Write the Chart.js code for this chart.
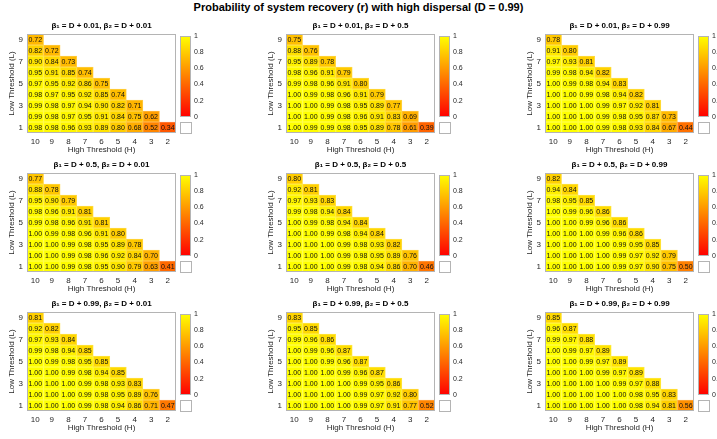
<!DOCTYPE html>
<html>
<head>
<meta charset="utf-8">
<script src="https://cdn.jsdelivr.net/npm/chart.js@4.4.1/dist/chart.umd.min.js"></script>
<style>
body { margin: 0; background: #fff; width: 717px; height: 439px; overflow: hidden; position: relative; font-family: "Liberation Sans", Arial, sans-serif; }
#title { position: absolute; left: 0; top: 1px; width: 717px; text-align: center; font-weight: bold; font-size: 11px; color: #000; }
canvas { position: absolute; }
.nan { position: absolute; width: 10px; height: 10px; border: 1px solid #b4b4b4; background: #fff; }
</style>
</head>
<body>
<div id="title">Probability of system recovery (r) with high dispersal (D = 0.99)</div>
<script>
// axis labels
const highThresholds = ['10', '9', '8', '7', '6', '5', '4', '3', '2'];
const lowThresholds = [9, 8, 7, 6, 5, 4, 3, 2, 1];
const beta1Labels = ['D + 0.01', 'D + 0.5', 'D + 0.99'];
const beta2Labels = ['D + 0.01', 'D + 0.5', 'D + 0.99'];

// values, one row per low threshold (L = 9 ... 1), columns H = 10 ... 2
const r_001_001 = [
  [0.72],
  [0.82, 0.72],
  [0.90, 0.84, 0.73],
  [0.95, 0.91, 0.85, 0.74],
  [0.97, 0.95, 0.92, 0.86, 0.75],
  [0.98, 0.97, 0.95, 0.92, 0.85, 0.74],
  [0.99, 0.98, 0.97, 0.94, 0.90, 0.82, 0.71],
  [0.99, 0.98, 0.97, 0.95, 0.91, 0.84, 0.75, 0.62],
  [0.98, 0.98, 0.96, 0.93, 0.89, 0.80, 0.68, 0.52, 0.34]
];
const r_001_05 = [
  [0.75],
  [0.88, 0.76],
  [0.95, 0.89, 0.78],
  [0.98, 0.96, 0.91, 0.79],
  [0.99, 0.98, 0.96, 0.91, 0.80],
  [1.00, 0.99, 0.98, 0.96, 0.91, 0.79],
  [1.00, 1.00, 0.99, 0.98, 0.95, 0.89, 0.77],
  [1.00, 1.00, 0.99, 0.98, 0.96, 0.91, 0.83, 0.69],
  [1.00, 0.99, 0.99, 0.98, 0.95, 0.89, 0.78, 0.61, 0.39]
];
const r_001_099 = [
  [0.78],
  [0.91, 0.80],
  [0.97, 0.93, 0.81],
  [0.99, 0.98, 0.94, 0.82],
  [1.00, 0.99, 0.98, 0.94, 0.83],
  [1.00, 1.00, 0.99, 0.98, 0.94, 0.82],
  [1.00, 1.00, 1.00, 0.99, 0.97, 0.92, 0.81],
  [1.00, 1.00, 1.00, 0.99, 0.98, 0.95, 0.87, 0.73],
  [1.00, 1.00, 1.00, 0.99, 0.98, 0.93, 0.84, 0.67, 0.44]
];
const r_05_001 = [
  [0.77],
  [0.88, 0.78],
  [0.95, 0.90, 0.79],
  [0.98, 0.96, 0.91, 0.81],
  [0.99, 0.98, 0.96, 0.91, 0.81],
  [1.00, 0.99, 0.98, 0.96, 0.91, 0.80],
  [1.00, 1.00, 0.99, 0.98, 0.95, 0.89, 0.78],
  [1.00, 1.00, 0.99, 0.98, 0.96, 0.92, 0.84, 0.70],
  [1.00, 1.00, 0.99, 0.98, 0.95, 0.90, 0.79, 0.63, 0.41]
];
const r_05_05 = [
  [0.80],
  [0.92, 0.81],
  [0.97, 0.93, 0.83],
  [0.99, 0.98, 0.94, 0.84],
  [1.00, 0.99, 0.98, 0.94, 0.84],
  [1.00, 1.00, 0.99, 0.98, 0.94, 0.84],
  [1.00, 1.00, 1.00, 0.99, 0.98, 0.93, 0.82],
  [1.00, 1.00, 1.00, 0.99, 0.98, 0.95, 0.89, 0.76],
  [1.00, 1.00, 1.00, 0.99, 0.98, 0.94, 0.86, 0.70, 0.46]
];
const r_05_099 = [
  [0.82],
  [0.94, 0.84],
  [0.98, 0.95, 0.85],
  [1.00, 0.99, 0.96, 0.86],
  [1.00, 1.00, 0.99, 0.96, 0.86],
  [1.00, 1.00, 1.00, 0.99, 0.96, 0.86],
  [1.00, 1.00, 1.00, 1.00, 0.99, 0.95, 0.85],
  [1.00, 1.00, 1.00, 1.00, 0.99, 0.97, 0.92, 0.79],
  [1.00, 1.00, 1.00, 1.00, 0.99, 0.97, 0.90, 0.75, 0.50]
];
const r_099_001 = [
  [0.81],
  [0.92, 0.82],
  [0.97, 0.93, 0.84],
  [0.99, 0.98, 0.94, 0.85],
  [1.00, 0.99, 0.98, 0.95, 0.85],
  [1.00, 1.00, 0.99, 0.98, 0.94, 0.85],
  [1.00, 1.00, 1.00, 0.99, 0.98, 0.93, 0.83],
  [1.00, 1.00, 1.00, 0.99, 0.98, 0.95, 0.89, 0.76],
  [1.00, 1.00, 1.00, 0.99, 0.98, 0.94, 0.86, 0.71, 0.47]
];
const r_099_05 = [
  [0.83],
  [0.95, 0.85],
  [0.99, 0.96, 0.86],
  [1.00, 0.99, 0.96, 0.87],
  [1.00, 1.00, 0.99, 0.96, 0.87],
  [1.00, 1.00, 1.00, 0.99, 0.96, 0.87],
  [1.00, 1.00, 1.00, 1.00, 0.99, 0.95, 0.86],
  [1.00, 1.00, 1.00, 1.00, 0.99, 0.97, 0.92, 0.80],
  [1.00, 1.00, 1.00, 1.00, 0.99, 0.97, 0.91, 0.77, 0.52]
];
const r_099_099 = [
  [0.85],
  [0.96, 0.87],
  [0.99, 0.97, 0.88],
  [1.00, 0.99, 0.97, 0.89],
  [1.00, 1.00, 0.99, 0.97, 0.89],
  [1.00, 1.00, 1.00, 0.99, 0.97, 0.89],
  [1.00, 1.00, 1.00, 1.00, 0.99, 0.97, 0.88],
  [1.00, 1.00, 1.00, 1.00, 1.00, 0.98, 0.95, 0.83],
  [1.00, 1.00, 1.00, 1.00, 1.00, 0.98, 0.94, 0.81, 0.56]
];

const panels = [
  [r_001_001, r_001_05, r_001_099],
  [r_05_001, r_05_05, r_05_099],
  [r_099_001, r_099_05, r_099_099]
];

// layout
const colLeft = [27, 286, 545];
const rowTop = [34, 173, 312];
const plotW = 149, plotH = 99;
const yAxisW = 27, xAxisH = 27, titleH = 16;

Chart.defaults.font.family = '"Liberation Sans", Arial, sans-serif';
Chart.defaults.color = '#262626';

// MATLAB autumn colormap
function autumn(v) {
  return 'rgb(255,' + Math.round(255 * v) + ',0)';
}
function autumnEdge(v) {
  const g = Math.round(255 * v);
  return 'rgb(255,' + Math.round(g + (255 - g) * 0.25) + ',64)';
}

const frame = {
  id: 'frame',
  afterDraw(chart) {
    const a = chart.chartArea;
    const ctx = chart.ctx;
    ctx.save();
    ctx.strokeStyle = '#b4b4b4';
    ctx.lineWidth = 1;
    ctx.strokeRect(Math.round(a.left) + 0.5, Math.round(a.top) + 0.5, Math.round(a.right - a.left) - 1, Math.round(a.bottom - a.top) - 1);
    ctx.restore();
  }
};

const cellText = {
  id: 'cellText',
  afterDatasetsDraw(chart) {
    const ctx = chart.ctx;
    ctx.save();
    ctx.font = '7px "Liberation Sans", Arial, sans-serif';
    ctx.fillStyle = '#111';
    ctx.textAlign = 'center';
    ctx.textBaseline = 'middle';
    chart.data.datasets.forEach((ds, i) => {
      chart.getDatasetMeta(i).data.forEach((bar, j) => {
        if (ds.vals[j] === undefined) return;
        const p = bar.getProps(['x', 'y', 'base'], true);
        ctx.fillText(ds.vals[j].toFixed(2), p.x, (p.y + p.base) / 2 + 0.5);
      });
    });
    ctx.restore();
  }
};

function addCanvas(left, top, w, h) {
  const c = document.createElement('canvas');
  c.width = w; c.height = h;
  c.style.left = left + 'px'; c.style.top = top + 'px';
  c.style.width = w + 'px'; c.style.height = h + 'px';
  document.body.appendChild(c);
  return c;
}

function heatmap(r, c) {
  const rows = panels[r][c];
  const datasets = lowThresholds.map((L, i) => {
    const vals = rows[i];
    return {
      data: highThresholds.map((h, j) => j < vals.length ? [L - 0.5, L + 0.5] : null),
      vals: vals,
      backgroundColor: highThresholds.map((h, j) => j < vals.length ? autumn(vals[j]) : 'transparent'),
      borderColor: highThresholds.map((h, j) => j < vals.length ? autumnEdge(vals[j]) : 'transparent'),
      borderWidth: 1,
      borderSkipped: false,
      grouped: false,
      barPercentage: 1,
      categoryPercentage: 1
    };
  });
  const cv = addCanvas(colLeft[c] - yAxisW, rowTop[r] - titleH, yAxisW + plotW + 1, titleH + plotH + xAxisH);
  new Chart(cv, {
    type: 'bar',
    data: { labels: highThresholds, datasets: datasets },
    options: {
      responsive: false,
      animation: false,
      events: [],
      layout: { padding: { left: 0, right: 1, top: 0, bottom: 0 } },
      plugins: {
        legend: { display: false },
        tooltip: { enabled: false },
        title: {
          display: true,
          fullSize: false,
          text: 'β₁ = ' + beta1Labels[r] + ', β₂ = ' + beta2Labels[c],
          color: '#000',
          font: { size: 8, weight: 'bold', lineHeight: 1 },
          padding: { top: 4, bottom: 4 }
        }
      },
      scales: {
        x: {
          type: 'category',
          grid: { display: false, drawTicks: false },
          border: { display: false },
          ticks: { font: { size: 8 }, padding: 4, maxRotation: 0 },
          title: { display: true, text: 'High Threshold (H)', font: { size: 8 }, padding: { top: 0, bottom: 5 } },
          afterFit: s => { s.height = xAxisH; }
        },
        y: {
          type: 'linear',
          min: 0.5,
          max: 9.5,
          grid: { display: false, drawTicks: false },
          border: { display: false },
          ticks: { font: { size: 8 }, padding: 4 },
          afterBuildTicks: s => { s.ticks = lowThresholds.map(v => ({ value: v })); },
          title: { display: true, text: 'Low Threshold (L)', font: { size: 8 }, padding: { top: 7, bottom: 0 } },
          afterFit: s => { s.width = yAxisW; }
        }
      }
    },
    plugins: [cellText, frame]
  });
}

function colorbar(r, c) {
  const left = colLeft[c] + plotW + 4;
  const top = rowTop[r];
  const cv = addCanvas(left, top - 5, 11 + 20, 85 + 10);
  new Chart(cv, {
    type: 'bar',
    data: {
      labels: [''],
      datasets: [{
        data: [[0, 1]],
        barPercentage: 1,
        categoryPercentage: 1,
        backgroundColor: ctx => {
          const chart = ctx.chart;
          if (!chart.chartArea) return 'rgb(255,128,0)';
          const y = chart.scales.y;
          const g = chart.ctx.createLinearGradient(0, y.getPixelForValue(0), 0, y.getPixelForValue(1));
          g.addColorStop(0, 'rgb(255,0,0)');
          g.addColorStop(1, 'rgb(255,255,0)');
          return g;
        }
      }]
    },
    options: {
      responsive: false,
      animation: false,
      events: [],
      layout: { padding: { left: 0, right: 0, top: 5, bottom: 5 } },
      plugins: { legend: { display: false }, tooltip: { enabled: false } },
      scales: {
        x: { display: false },
        y: {
          position: 'right',
          min: 0,
          max: 1,
          grid: { display: false, drawTicks: false },
          border: { display: false },
          ticks: { stepSize: 0.2, font: { size: 7 }, padding: 3, callback: v => String(+v.toFixed(1)) },
          afterFit: s => { s.width = 20; }
        }
      }
    },
    plugins: [frame]
  });
  const box = document.createElement('div');
  box.className = 'nan';
  box.style.left = left + 'px';
  box.style.top = (top + 88) + 'px';
  document.body.appendChild(box);
}

for (let r = 0; r < 3; r++) {
  for (let c = 0; c < 3; c++) {
    heatmap(r, c);
    colorbar(r, c);
  }
}
</script>
</body>
</html>
